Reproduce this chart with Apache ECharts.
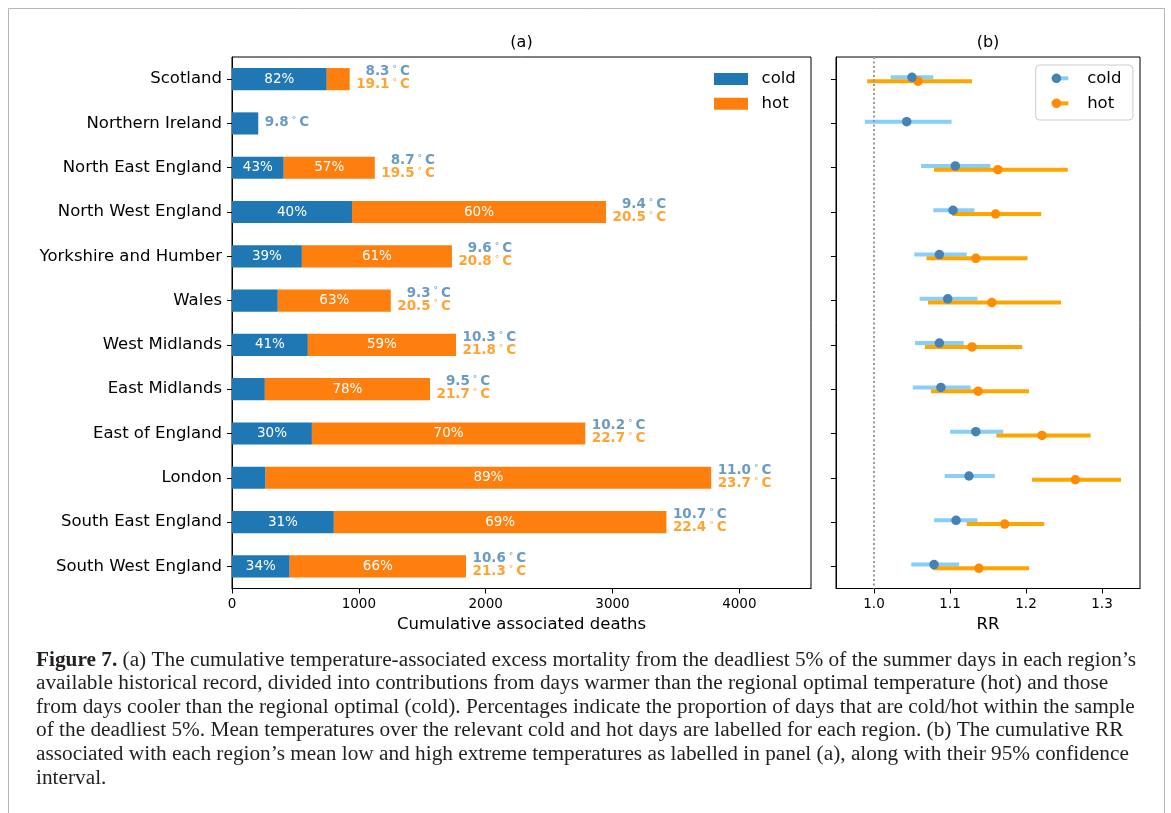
<!DOCTYPE html>
<html><head><meta charset="utf-8">
<script src="https://cdn.jsdelivr.net/npm/echarts@6/dist/echarts.min.js"></script>
<style>html,body{margin:0;padding:0;background:#fff}#c{width:1171px;height:813px}</style>
</head><body><div id="c"></div>
<script>
// ---------- data ----------
const regions = ['Scotland','Northern Ireland','North East England','North West England','Yorkshire and Humber','Wales','West Midlands','East Midlands','East of England','London','South East England','South West England'];
const coldDeaths = [747, 207, 408, 946, 551, 361, 598, 259, 630, 265, 803, 455];
const hotDeaths  = [181, 0, 718, 2003, 1183, 891, 1168, 1302, 2155, 3513, 2622, 1390];
const coldPct = [82, null, 43, 40, 39, null, 41, null, 30, null, 31, 34];
const hotPct  = [null, null, 57, 60, 61, 63, 59, 78, 70, 89, 69, 66];
const coldTemp = [8.3, 9.8, 8.7, 9.4, 9.6, 9.3, 10.3, 9.5, 10.2, 11.0, 10.7, 10.6];
const hotTemp  = [19.1, null, 19.5, 20.5, 20.8, 20.5, 21.8, 21.7, 22.7, 23.7, 22.4, 21.3];
const deathTicks = [0, 1000, 2000, 3000, 4000];

const coldRR = [1.050, 1.043, 1.107, 1.104, 1.086, 1.097, 1.086, 1.088, 1.134, 1.125, 1.108, 1.079];
const coldLo = [1.022, 0.988, 1.062, 1.078, 1.053, 1.060, 1.054, 1.051, 1.100, 1.093, 1.079, 1.049];
const coldHi = [1.078, 1.102, 1.153, 1.132, 1.122, 1.136, 1.118, 1.127, 1.170, 1.159, 1.136, 1.112];
const hotRR  = [1.058, null, 1.163, 1.160, 1.134, 1.155, 1.129, 1.137, 1.221, 1.265, 1.172, 1.138];
const hotLo  = [0.991, null, 1.079, 1.103, 1.069, 1.071, 1.067, 1.075, 1.161, 1.208, 1.122, 1.077];
const hotHi  = [1.129, null, 1.255, 1.220, 1.202, 1.246, 1.195, 1.204, 1.285, 1.325, 1.224, 1.204];
const rrTicks = [1.0, 1.1, 1.2, 1.3];
const rrReference = [1.0];

const captionLines = [
  '{b|Figure 7.} (a) The cumulative temperature-associated excess mortality from the deadliest 5% of the summer days in each region\u2019s',
  'available historical record, divided into contributions from days warmer than the regional optimal temperature (hot) and those',
  'from days cooler than the regional optimal (cold). Percentages indicate the proportion of days that are cold/hot within the sample',
  'of the deadliest 5%. Mean temperatures over the relevant cold and hot days are labelled for each region. (b) The cumulative RR',
  'associated with each region\u2019s mean low and high extreme temperatures as labelled in panel (a), along with their 95% confidence',
  'interval.'
];

// ---------- styles ----------
const F = 'DejaVu Sans';
const SERIF = 'Liberation Serif';
const C_COLD = '#1f77b4', C_HOT = '#ff7f0e';
const C_COLD_T = '#4682b4', C_HOT_T = '#ff8c00';
const C_COLD_CI = '#87cefa', C_HOT_CI = '#ffa500';
const COLD_OFF = -0.04, HOT_OFF = 0.045;

const totals = coldDeaths.map((c, i) => c + hotDeaths[i]);
const tempLabelData = totals.map((t, i) => [t, i]);

function tempFmt(p) {
  const i = p.dataIndex;
  let s = '{cv|' + coldTemp[i].toFixed(1) + '}{cd|\u00b0}{cv|C}';
  if (hotTemp[i] != null) s += '\n{hv|' + hotTemp[i].toFixed(1) + '}{hd|\u00b0}{hv|C}';
  return s;
}
function tok(color, bold) {
  return {color: color, fontFamily: F, fontSize: 13.5, fontWeight: bold ? 'bold' : 'normal', lineHeight: 13, align: 'right'};
}
function degTok(color) {
  return {color: color, fontFamily: F, fontSize: 9, lineHeight: 8, verticalAlign: 'top', align: 'right', padding: [0, 3, 0, 3]};
}

function ciRender(color) {
  return function (params, api) {
    const p1 = api.coord([api.value(0), api.value(2)]);
    const p2 = api.coord([api.value(1), api.value(2)]);
    return {type: 'line', shape: {x1: p1[0], y1: p1[1], x2: p2[0], y2: p2[1]},
            style: {stroke: color, lineWidth: 4}};
  };
}
const coldCIData = coldLo.map((lo, i) => [lo, coldHi[i], i + COLD_OFF]);
const hotCIData = hotLo.map((lo, i) => lo == null ? null : [lo, hotHi[i], i + HOT_OFF]).filter(d => d);
const coldDotData = coldRR.map((v, i) => [v, i + COLD_OFF]);
const hotDotData = hotRR.map((v, i) => v == null ? null : [v, i + HOT_OFF]).filter(d => d);

const axisLineBlack = {show: true, onZero: false, lineStyle: {color: '#000', width: 1}};
const tickBlack = {show: true, length: 5, lineStyle: {color: '#000', width: 1}};

const graphics = [
  {type: 'rect', shape: {x: 8.5, y: 8.5, width: 1156, height: 900}, style: {fill: 'none', stroke: '#b5b5b5', lineWidth: 1}, silent: true},
  {type: 'text', x: 521.5, y: 43, style: {text: '(a)', font: '16px "DejaVu Sans"', fill: '#000', align: 'center', verticalAlign: 'middle'}},
  {type: 'text', x: 988, y: 43, style: {text: '(b)', font: '16px "DejaVu Sans"', fill: '#000', align: 'center', verticalAlign: 'middle'}}
];
const capY = [660, 683.6, 707.2, 730.8, 754.4, 778];
captionLines.forEach((t, k) => {
  graphics.push({type: 'text', x: 36, y: capY[k], style: {
    text: t, fill: '#231f20', fontFamily: SERIF, fontSize: 21.3, align: 'left', verticalAlign: 'middle',
    rich: {b: {fontFamily: SERIF, fontSize: 21.3, fontWeight: 'bold', fill: '#231f20'}}
  }});
});

const option = {
  animation: false,
  backgroundColor: '#fff',
  textStyle: {fontFamily: F},
  grid: [
    {left: 232, top: 57, width: 579, height: 531.5, show: true, borderColor: '#000', borderWidth: 1, backgroundColor: 'transparent'},
    {left: 836, top: 57, width: 304, height: 531.5, show: true, borderColor: '#000', borderWidth: 1, backgroundColor: 'transparent'}
  ],
  xAxis: [
    {type: 'value', gridIndex: 0, min: 0, max: 4565, splitLine: {show: false},
     axisLine: axisLineBlack, axisTick: Object.assign({customValues: deathTicks}, tickBlack),
     axisLabel: {customValues: deathTicks, color: '#000', fontSize: 13.5, fontFamily: F, margin: 9, formatter: v => String(v)},
     name: 'Cumulative associated deaths', nameLocation: 'middle', nameGap: 27,
     nameTextStyle: {color: '#000', fontSize: 16.5, fontFamily: F}},
    {type: 'value', gridIndex: 1, min: 0.95, max: 1.35, splitLine: {show: false},
     axisLine: axisLineBlack, axisTick: Object.assign({customValues: rrTicks}, tickBlack),
     axisLabel: {customValues: rrTicks, color: '#000', fontSize: 13.5, fontFamily: F, margin: 9, formatter: v => v.toFixed(1)},
     name: 'RR', nameLocation: 'middle', nameGap: 27,
     nameTextStyle: {color: '#000', fontSize: 16.5, fontFamily: F}}
  ],
  yAxis: [
    {type: 'category', gridIndex: 0, data: regions, inverse: true,
     axisLine: axisLineBlack, axisTick: Object.assign({alignWithLabel: true}, tickBlack),
     axisLabel: {color: '#000', fontSize: 16.5, fontFamily: F, margin: 10}, splitLine: {show: false}},
    {type: 'category', gridIndex: 1, data: regions, inverse: true,
     axisLine: axisLineBlack, axisTick: Object.assign({alignWithLabel: true}, tickBlack),
     axisLabel: {show: false}, splitLine: {show: false}},
    {type: 'value', gridIndex: 1, min: -0.5, max: 11.5, inverse: true, show: false, splitLine: {show: false},
     axisLine: {show: false, onZero: false}}
  ],
  legend: [
    {data: ['cold', 'hot'], orient: 'vertical', left: 714, top: 70, padding: 0, itemGap: 6.7,
     icon: 'rect', itemWidth: 34, itemHeight: 12, selectedMode: false,
     textStyle: {fontFamily: F, fontSize: 16.5, color: '#000', lineHeight: 18, padding: [0, 0, 0, 8.6]}},
    {data: ['cold CI', 'hot CI'], orient: 'vertical', left: 1035.7, top: 65, padding: [4.3, 8, 7.7, 16], itemGap: 7,
     icon: 'rect', itemWidth: 16.6, itemHeight: 4, selectedMode: false,
     backgroundColor: 'rgba(255,255,255,0.8)', borderColor: '#cccccc', borderWidth: 1, borderRadius: 4,
     formatter: nm => nm.replace(' CI', ''),
     textStyle: {fontFamily: F, fontSize: 16.5, color: 'rgba(0,0,0,0)', lineHeight: 18, padding: [0, 0, 0, 17.4]}},
    {data: ['cold RR', 'hot RR'], orient: 'vertical', left: 1035.7, top: 65, padding: [4.3, 8, 7.7, 16], itemGap: 7,
     icon: 'circle', itemWidth: 16.6, itemHeight: 9.5, selectedMode: false,
     formatter: nm => nm.replace(' RR', ''),
     textStyle: {fontFamily: F, fontSize: 16.5, color: '#000', lineHeight: 18, padding: [0, 0, 0, 17.4]}}
  ],
  graphic: graphics,
  series: [
    {name: 'cold', type: 'bar', xAxisIndex: 0, yAxisIndex: 0, stack: 'deaths', data: coldDeaths, barWidth: '50%',
     itemStyle: {color: C_COLD},
     label: {show: true, position: 'inside', color: '#fff', fontFamily: F, fontSize: 13.5,
             formatter: p => coldPct[p.dataIndex] == null ? '' : coldPct[p.dataIndex] + '%'}},
    {name: 'hot', type: 'bar', xAxisIndex: 0, yAxisIndex: 0, stack: 'deaths', data: hotDeaths, barWidth: '50%',
     itemStyle: {color: C_HOT},
     label: {show: true, position: 'inside', color: '#fff', fontFamily: F, fontSize: 13.5,
             formatter: p => hotPct[p.dataIndex] == null ? '' : hotPct[p.dataIndex] + '%'}},
    {name: 'temps', type: 'scatter', xAxisIndex: 0, yAxisIndex: 0, data: tempLabelData, symbolSize: 1,
     itemStyle: {color: 'rgba(0,0,0,0)'}, silent: true, z: 5,
     label: {show: true, position: 'right', distance: 6, offset: [0, -1], formatter: tempFmt,
             rich: {cv: tok(C_COLD_T, true), cd: degTok(C_COLD_T), hv: tok(C_HOT_T, true), hd: degTok(C_HOT_T)}}},
    {name: 'cold CI', type: 'custom', xAxisIndex: 1, yAxisIndex: 2, data: coldCIData, encode: {x: [0, 1], y: 2},
     renderItem: ciRender(C_COLD_CI), itemStyle: {color: C_COLD_CI}, z: 2, silent: true,
     markLine: {silent: true, symbol: 'none', label: {show: false},
                lineStyle: {type: [2, 2.5], color: '#999999', width: 2},
                data: rrReference.map(v => ({xAxis: v}))}},
    {name: 'hot CI', type: 'custom', xAxisIndex: 1, yAxisIndex: 2, data: hotCIData, encode: {x: [0, 1], y: 2},
     renderItem: ciRender(C_HOT_CI), itemStyle: {color: C_HOT_CI}, z: 3, silent: true},
    {name: 'hot RR', type: 'scatter', xAxisIndex: 1, yAxisIndex: 2, data: hotDotData, symbolSize: 9.5,
     itemStyle: {color: C_HOT_T, opacity: 1}, z: 4, silent: true},
    {name: 'cold RR', type: 'scatter', xAxisIndex: 1, yAxisIndex: 2, data: coldDotData, symbolSize: 9.5,
     itemStyle: {color: C_COLD_T, opacity: 1}, z: 5, silent: true}
  ]
};
const chart = echarts.init(document.getElementById('c'));
chart.setOption(option);
</script>
</body></html>
